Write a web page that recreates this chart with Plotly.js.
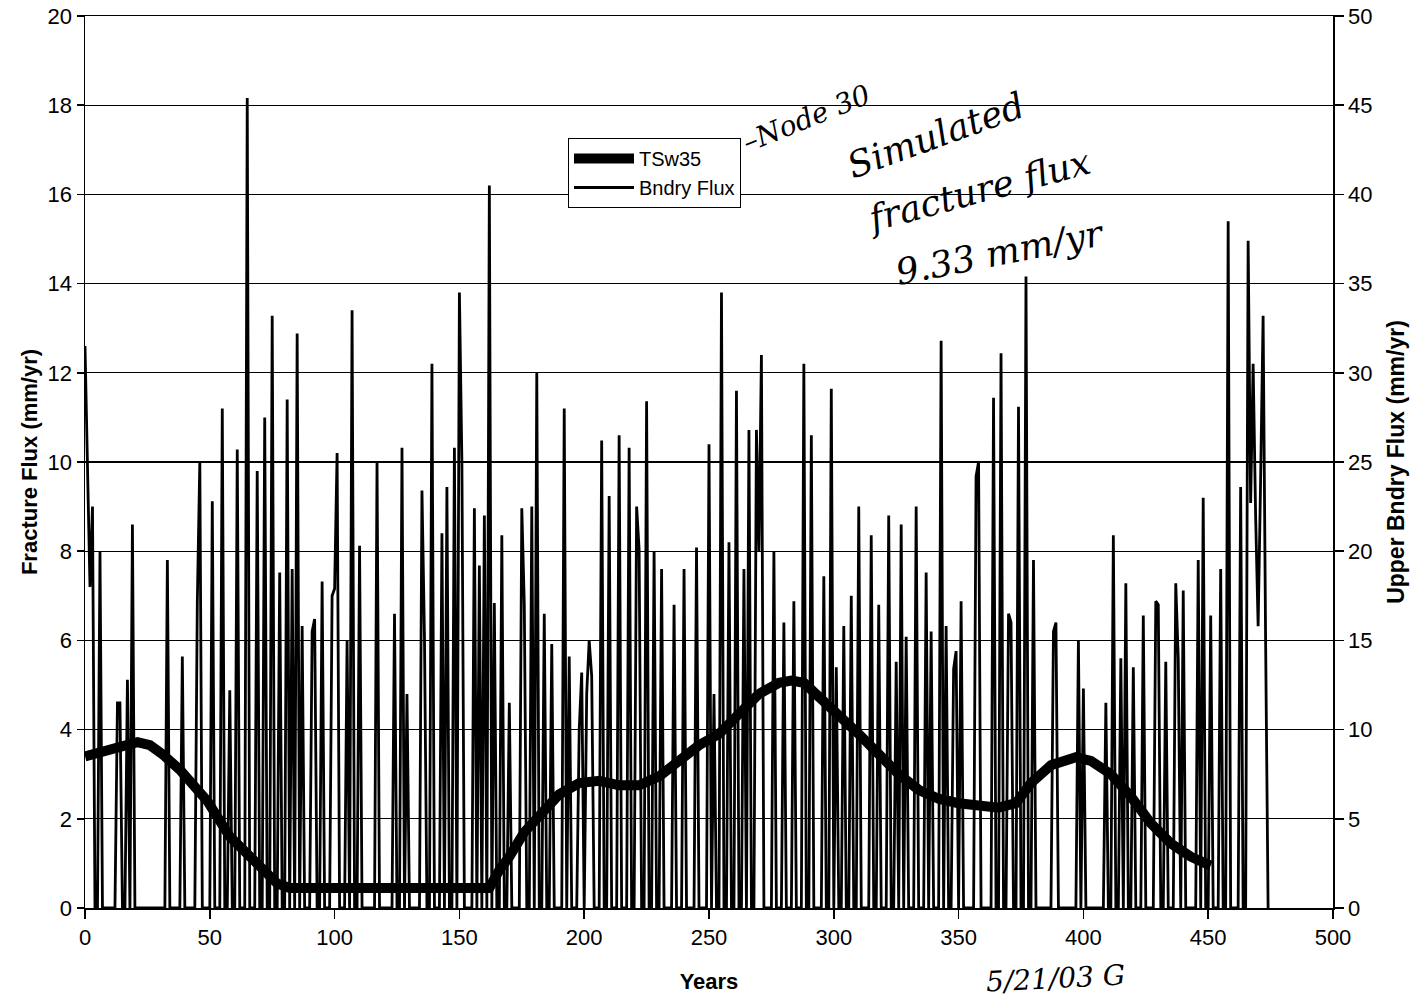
<!DOCTYPE html>
<html>
<head>
<meta charset="utf-8">
<script src="https://cdn.plot.ly/plotly-3.0.1.min.js"></script>
<style>html,body{margin:0;padding:0;background:#fff;}#chart{width:1418px;height:1003px;}</style>
</head>
<body>
<div id="chart"></div>
<script>
// Upper boundary flux (right axis, mm/yr)
const bndryYears = [
  0,1,2,3,4,5,6,7,
  12,13,14,15,16,17,18,19,20,
  32,33,34,38,39,40,44,45,46,47,
  50,51,52,54,55,56,57,58,59,60,61,62,
  64,65,66,68,69,70,71,72,73,74,75,76,
  77,78,79,80,81,82,83,84,85,86,87,88,
  90,91,92,93,94,95,96,98,99,100,101,102,
  104,105,106,107,108,109,110,111,116,117,118,
  123,124,125,126,127,128,129,130,
  134,135,136,137,138,139,140,142,143,144,145,146,
  147,148,149,150,151,152,155,156,157,158,159,160,161,162,163,164,165,
  166,167,168,169,170,171,174,175,176,177,178,179,180,181,182,
  183,184,185,186,187,188,191,192,193,194,195,
  197,198,199,200,201,202,203,204,206,207,208,209,210,211,
  213,214,215,217,218,219,220,221,222,223,224,225,226,
  227,228,229,230,231,232,235,236,237,239,240,241,244,245,246,
  249,250,251,252,253,254,255,256,257,258,259,260,261,262,263,264,265,
  266,267,268,269,270,271,272,275,276,277,279,280,281,283,284,285,
  287,288,289,290,291,292,295,296,297,298,299,300,301,302,
  303,304,305,306,307,308,309,310,311,314,315,316,317,318,319,
  321,322,323,324,325,326,327,328,329,330,332,333,334,
  336,337,338,339,340,342,343,344,345,346,347,348,349,350,351,352,
  356,357,358,359,363,364,365,366,367,368,369,370,371,372,
  373,374,375,376,377,378,379,380,381,387,388,389,390,
  397,398,399,400,401,408,409,410,411,412,413,414,415,416,417,418,
  419,420,421,423,424,425,428,429,430,431,432,433,434,
  436,437,438,439,440,441,445,446,447,448,449,450,451,452,
  454,455,456,457,458,459,462,463,464,465,466,467,468,469,470,471,472,473,474
];
const bndryFlux = [
  31.5,24,18,22.5,0,0,20,0,
  0,11.5,11.5,0,0,12.8,0,21.5,0,
  0,19.5,0,0,14.1,0,0,17.2,25,0,
  0,22.8,0,0,28,0,0,12.2,0,0,25.7,0,
  0,45.4,0,0,24.5,0,0,27.5,0,0,33.2,0,
  0,18.8,0,0,28.5,0,19,0,32.2,0,15.8,0,
  0,15.5,16.2,0,0,18.3,0,0,17.5,17.9,25.5,0,
  0,15,0,33.5,0,0,20.3,0,0,25,0,
  0,16.5,0,0,25.8,0,12,0,
  0,23.4,15.2,0,0,30.5,0,0,21,0,23.6,0,
  0,25.8,0,34.5,25,0,0,22.4,0,19.2,0,22,0,40.5,0,17.1,0,
  0,20.9,0,0,11.5,0,0,22.4,17,0,0,22.5,0,30,0,
  0,16.5,0,0,14.8,0,0,28,0,14.1,0,
  0,10,13.2,0,12,15,13,0,0,26.2,0,0,23.1,0,
  0,26.5,0,0,25.8,0,0,22.5,20.1,0,0,28.4,0,
  0,20,0,0,19,0,0,17,0,0,19,0,0,20.2,0,
  0,26,0,12,0,0,34.5,0,0,20.5,0,0,29,0,0,19,0,
  26.8,0,0,26.8,20,31,0,0,20,0,0,16,0,0,17.2,0,
  0,30.5,0,0,26.5,0,0,18.6,0,0,29.1,0,13.5,0,
  0,15.8,0,0,17.5,0,0,22.5,0,0,20.9,0,0,17,0,
  0,22,0,0,13.8,0,21.5,0,15.2,0,0,22.5,0,
  0,18.8,0,15.5,0,0,31.8,0,15.8,0,0,13.4,14.4,0,17.2,0,
  0,24.2,25,0,0,28.6,0,0,31.1,0,0,16.5,16,0,
  0,28.1,0,0,35.4,0,0,19.5,0,0,15.5,16,0,
  0,15,0,12.3,0,0,11.5,0,0,20.9,0,0,14,0,18.2,0,
  0,13.5,0,0,16.4,0,0,17.2,17,0,0,13.8,0,
  0,18.2,14,0,17.8,0,0,19.5,0,23,0,0,16.4,0,
  0,19,0,0,38.5,0,0,23.6,0,0,37.4,22.7,30.5,22,15.8,24,33.2,15,0
];

// TSw35 fracture flux (left axis, mm/yr)
const tswYears = [0,6,14,21,26,31,38,46,49,58,69,77,82,162,166,170,176,182,190,198,206,214,222,230,238,246,254,262,270,278,283,288,294,302,310,318,326,334,342,350,358,366,373,379,387,397,403,411,419,427,435,443,451];
const tswFlux  = [3.4,3.5,3.62,3.72,3.65,3.45,3.1,2.6,2.4,1.6,1.0,0.55,0.45,0.45,0.85,1.15,1.7,2.1,2.55,2.8,2.85,2.75,2.75,2.95,3.3,3.65,3.9,4.35,4.8,5.05,5.1,5.05,4.75,4.35,3.9,3.45,3.0,2.65,2.45,2.35,2.3,2.25,2.35,2.8,3.2,3.38,3.3,3.0,2.5,1.9,1.45,1.15,0.95];

const leftTicks  = [0,2,4,6,8,10,12,14,16,18,20];
const rightTicks = [0,5,10,15,20,25,30,35,40,45,50];
const xTicks     = [0,50,100,150,200,250,300,350,400,450,500];

const FONT = 'Liberation Sans, Arial, sans-serif';
const HAND = 'DejaVu Serif, serif';

const traces = [
  {
    x: bndryYears, y: bndryFlux, name: 'Bndry Flux', yaxis: 'y',
    type: 'scatter', mode: 'lines', line: {color: '#000', width: 2.8},
    legendrank: 2, hoverinfo: 'x+y'
  },
  {
    x: tswYears, y: tswFlux, name: 'TSw35', yaxis: 'y2',
    type: 'scatter', mode: 'lines', line: {color: '#000', width: 10},
    legendrank: 1, hoverinfo: 'x+y'
  }
];

function px(x){ return (x - 85) / 1248; }
function py(y){ return (908 - y) / 892; }

function hand(x, y, text, angle, size){
  return {xref: 'paper', yref: 'paper', x: px(x), y: py(y), xanchor: 'center', yanchor: 'middle',
    text: text, showarrow: false, textangle: angle,
    font: {family: HAND, size: size, style: 'italic', color: '#000'}};
}

const layout = {
  width: 1418, height: 1003,
  margin: {l: 85, r: 85, t: 16, b: 95},
  paper_bgcolor: '#fff', plot_bgcolor: '#fff',
  font: {family: FONT, color: '#000', size: 22},
  showlegend: true,
  legend: {
    x: px(568), y: py(138), xanchor: 'left', yanchor: 'top',
    bgcolor: '#fff', bordercolor: '#000', borderwidth: 1,
    font: {family: FONT, size: 20, color: '#000'},
    itemwidth: 60, tracegroupgap: 0
  },
  xaxis: {
    range: [0, 500], tickvals: xTicks, ticktext: xTicks.map(String),
    showline: true, linecolor: '#000', linewidth: 1.5, mirror: true,
    ticks: 'outside', ticklen: 9, tickwidth: 1.5, tickcolor: '#000',
    showgrid: false, zeroline: false,
    tickfont: {family: FONT, size: 22, color: '#000'},
    title: {text: '<b>Years</b>', font: {family: FONT, size: 22, color: '#000'}, standoff: 24}
  },
  yaxis: {
    range: [0, 50], tickvals: rightTicks, ticktext: rightTicks.map(String),
    side: 'right',
    showline: true, linecolor: '#000', linewidth: 1.5,
    ticks: 'outside', ticklen: 9, tickwidth: 1.5, tickcolor: '#000',
    showgrid: true, gridcolor: '#000', gridwidth: 1.3, zeroline: false,
    tickfont: {family: FONT, size: 22, color: '#000'},
    title: {text: '<b>Upper Bndry Flux (mm/yr)</b>', font: {family: FONT, size: 23, color: '#000'}, standoff: 16}
  },
  yaxis2: {
    range: [0, 20], tickvals: leftTicks, ticktext: leftTicks.map(String),
    side: 'left', overlaying: 'y',
    showline: true, linecolor: '#000', linewidth: 1.5,
    ticks: 'outside', ticklen: 7, tickwidth: 1.5, tickcolor: '#000',
    showgrid: false, zeroline: false,
    tickfont: {family: FONT, size: 22, color: '#000'},
    title: {text: '<b>Fracture Flux (mm/yr)</b>', font: {family: FONT, size: 22, color: '#000'}, standoff: 4}
  },
  annotations: [
    hand(806, 118, '–Node 30', -22, 28),
    hand(935, 135, 'Simulated', -20, 36),
    hand(978, 190, 'fracture flux', -15, 36),
    hand(1000, 252, '9.33 mm/yr', -11, 36),
    hand(1055, 978, '5/21/03 G', -3, 28)
  ]
};

Plotly.newPlot('chart', traces, layout, {displayModeBar: false, staticPlot: true});
</script>
</body>
</html>
